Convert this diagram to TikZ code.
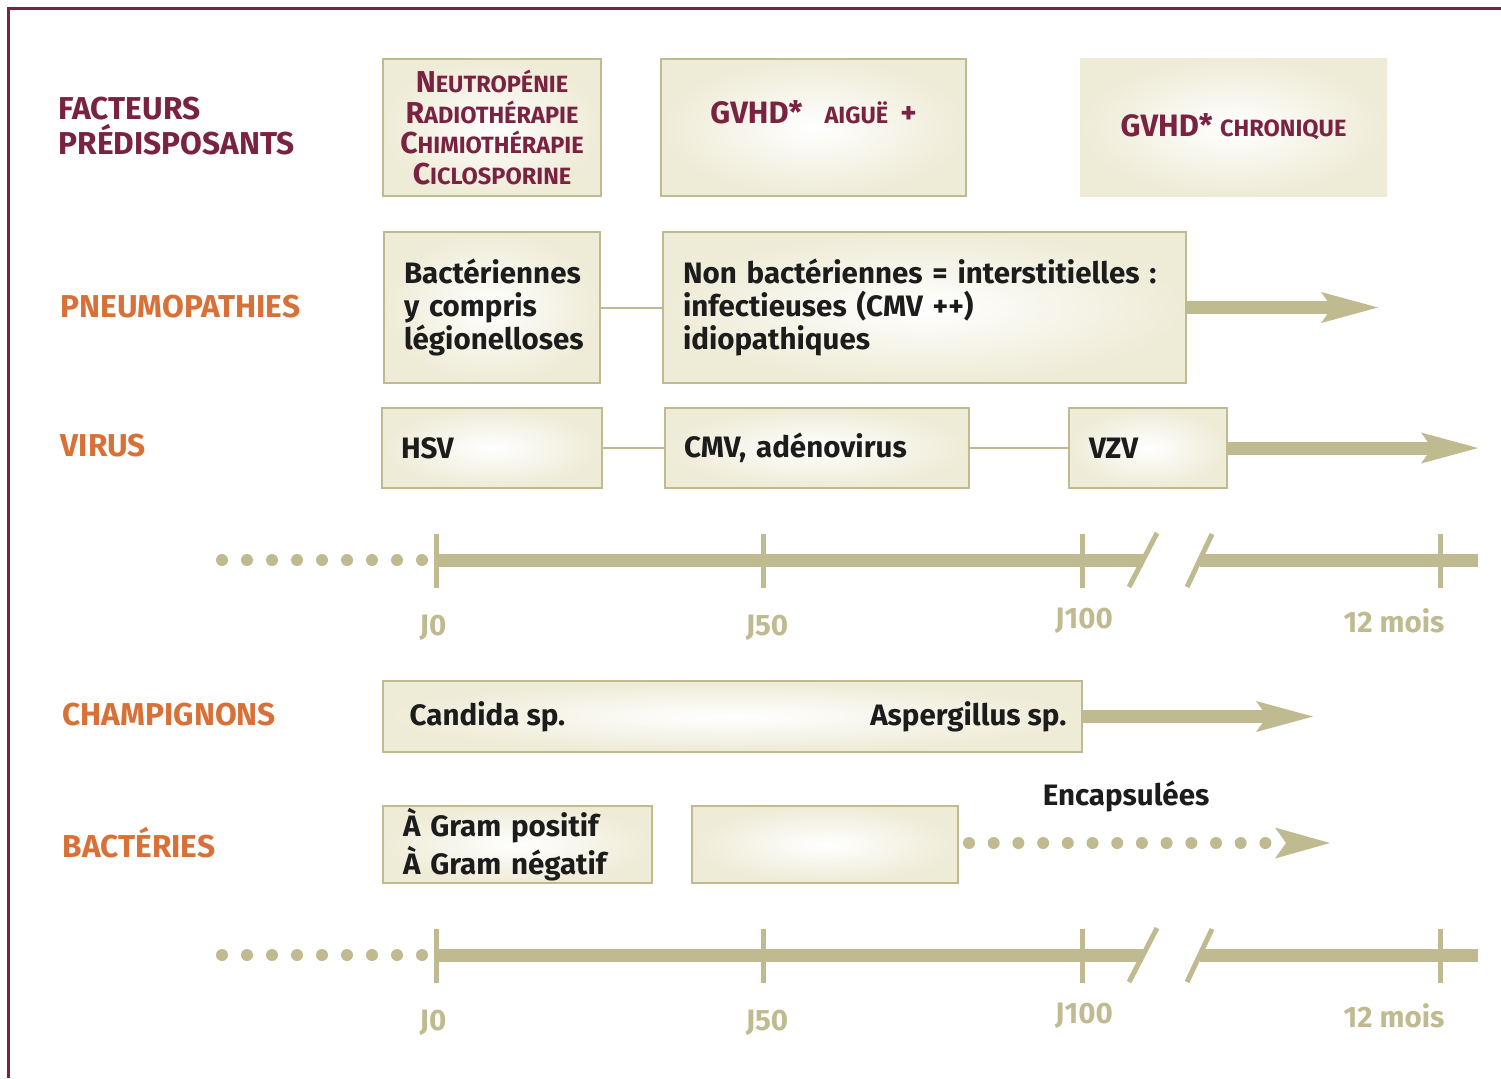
\documentclass[tikz,border=0pt]{standalone}
\usepackage{fontspec}
\setmainfont{Fira Sans}
\usepackage{xcolor}
\usepackage{tikz}
\usetikzlibrary{arrows.meta}

\definecolor{maroon}{RGB}{122,34,66}
\definecolor{rust}{RGB}{216,113,56}
\definecolor{khaki}{RGB}{192,186,144}
\definecolor{cream}{RGB}{238,235,214}
\definecolor{ink}{RGB}{28,28,28}

\newcommand\bodytxt{\bfseries\fontsize{8.4}{9.4}\selectfont}
\newcommand\headtxt{\bfseries\fontsize{9}{9.7}\selectfont}
\newcommand\sctxt{\fontsize{6.7}{6.7}\selectfont}

\begin{document}
\begin{tikzpicture}[x=0.1mm, y=-0.1mm,
    frame/.style={draw=maroon, line width=0.3mm},
    rowlabel/.style={anchor=west, inner sep=0pt, align=left, font=\headtxt},
    box/.style={draw=khaki, line width=0.2mm, inner color=white, outer color=cream,
        inner xsep=2mm, inner ysep=0pt, align=left, font=\bodytxt, text=ink},
    capbox/.style={box, inner xsep=0.9mm, align=center, text=maroon, font=\bfseries\fontsize{8.6}{8.8}\selectfont},
    link/.style={draw=khaki, line width=0.2mm},
    bigarrow/.style={draw=khaki, line width=1.3mm,
        -{Stealth[length=5.7mm, width=3.1mm, inset=1.1mm, line width=0pt]}},
    dotarrow/.style={draw=khaki, line width=1.2mm, line cap=round, dash pattern=on 0pt off 2.47mm,
        -{Stealth[length=5.5mm, width=3.1mm, inset=1.1mm, line width=0pt]}},
    axisbar/.style={draw=khaki, line width=1.3mm},
    axistick/.style={draw=khaki, line width=0.5mm},
    axislabel/.style={inner sep=0pt, text=khaki, font=\bodytxt}]
    \useasboundingbox (0,0) rectangle (1501,1078);
    % frame
    \draw[frame] (8.5,1078) -- (8.5,8.5) -- (1501,8.5);

    % row labels
    \node[rowlabel, text=maroon] (lfac) at (58,126) {FACTEURS\\PRÉDISPOSANTS};
    \node[rowlabel, text=rust] (lpneu) at (60,307) {PNEUMOPATHIES};
    \node[rowlabel, text=rust] (lvir) at (60,446) {VIRUS};
    \node[rowlabel, text=rust] (lcha) at (62,715) {CHAMPIGNONS};
    \node[rowlabel, text=rust] (lbac) at (62,843) {BACTÉRIES};

    % facteurs predisposants
    \node[capbox, minimum width=21.8mm, minimum height=13.7mm, text width=20mm] (neutro) at (492,127.5)
        {N{\sctxt EUTROPÉNIE}\\R{\sctxt ADIOTHÉRAPIE}\\C{\sctxt HIMIOTHÉRAPIE}\\C{\sctxt ICLOSPORINE}};
    \node[box, minimum width=30.5mm, minimum height=13.7mm] (gvhda) at (813.5,127.5) {};
    \node[inner sep=0pt, text=maroon, font=\bfseries\fontsize{8.8}{9}\selectfont] (gvhdatxt)
        at ([yshift=1.55mm]gvhda.center) {GVHD*\hspace{2.2mm}{\sctxt AIGUË}\hspace{1.2mm}+};
    \node[box, draw=none, align=center, text=maroon, font=\bfseries\fontsize{8.8}{9}\selectfont,
        minimum width=30.7mm, minimum height=13.8mm] (gvhdc) at (1233.5,127) {GVHD* {\sctxt CHRONIQUE}};

    % pneumopathies
    \node[box, minimum width=21.6mm, minimum height=15.1mm, text width=17.6mm] (pbact) at (492,307.5)
        {Bactériennes\\y compris\\légionelloses};
    \node[box, minimum width=52.3mm, minimum height=15.1mm, text width=48.3mm] (pnon) at (924.5,307.5)
        {Non bactériennes = interstitielles :\\infectieuses (CMV ++)\\idiopathiques};
    \coordinate (pend) at (1378,307.5);
    \draw[link] (pbact) -- (pnon);
    \draw[bigarrow] (pnon) -- (pend);

    % virus
    \node[box, inner xsep=1.9mm, minimum width=22mm, minimum height=8mm, text width=18.2mm] (hsv) at (492,448) {HSV};
    \node[box, inner xsep=1.9mm, minimum width=30.4mm, minimum height=8mm, text width=26.6mm] (cmv) at (817,448) {CMV, adénovirus};
    \node[box, minimum width=15.8mm, minimum height=8mm, text width=11.8mm] (vzv) at (1148,448) {VZV};
    \coordinate (vend) at (1478,448);
    \draw[link] (hsv) -- (cmv);
    \draw[link] (cmv) -- (vzv);
    \draw[bigarrow] (vzv) -- (vend);

    % champignons
    \node[box, minimum width=69.9mm, minimum height=7.1mm] (champ) at (732.5,716.5) {};
    \node[anchor=west, inner sep=0pt, font=\bodytxt, text=ink] (candida) at ([xshift=2.7mm]champ.west) {Candida sp.};
    \node[anchor=east, inner sep=0pt, font=\bodytxt, text=ink] (asperg) at ([xshift=-1.6mm]champ.east) {Aspergillus sp.};
    \coordinate (cend) at (1313,716.5);
    \draw[bigarrow] (champ) -- (cend);

    % bacteries
    \node[box, minimum width=26.9mm, minimum height=7.7mm, text width=22.9mm] (gram) at (517.5,844.5)
        {À Gram positif\\À Gram négatif};
    \node[box, minimum width=26.6mm, minimum height=7.7mm] (bact) at (825,844.5) {};
    \node[inner sep=0pt, font=\bodytxt, text=ink] (encaps) at (1126,796) {Encapsulées};
    \coordinate (bstart) at (969,843);
    \coordinate (bend) at (1330,843);
    \draw[dotarrow] (bstart) -- (bend);

    % timelines
    \foreach \y/\t in {560/a,955/b}{
        \foreach \k in {0,...,8}
            \fill[khaki] (222+25*\k,\y) circle (0.6mm);
        \coordinate (j0\t) at (436,\y);
        \coordinate (jcut\t) at (1143,\y);
        \coordinate (jres\t) at (1200,\y);
        \coordinate (jend\t) at (1478,\y);
        \draw[axisbar] (j0\t) -- (jcut\t);
        \draw[axisbar] (jres\t) -- (jend\t);
        \foreach \x in {436,763,1082,1440}
            \draw[axistick] (\x,\y-26) -- (\x,\y+28);
        \draw[axistick] (1129,\y+27) -- (1157,\y-27);
        \draw[axistick] (1187,\y+27) -- (1212,\y-26);
        \node[axislabel] (lj0\t) at (433,\y+68) {J0};
        \node[axislabel] (lj50\t) at (767,\y+68) {J50};
        \node[axislabel] (lj100\t) at (1084,\y+61) {J100};
        \node[axislabel] (lmois\t) at (1394,\y+61) {12 mois};
    }
\end{tikzpicture}
\end{document}
